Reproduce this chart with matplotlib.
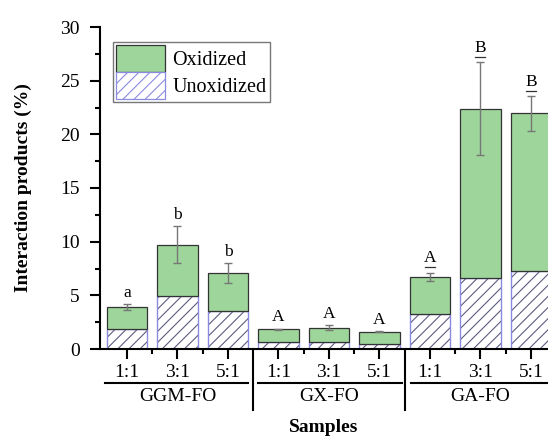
import matplotlib
matplotlib.use("Agg")
import matplotlib.pyplot as plt
import numpy as np
from matplotlib.patches import Patch
import matplotlib.transforms as mtransforms

plt.rcParams['font.family'] = ['Liberation Serif', 'DejaVu Serif']
plt.rcParams['hatch.linewidth'] = 0.8

groups = ["GGM-FO", "GX-FO", "GA-FO"]
ratios = ["1:1", "3:1", "5:1"]
total = [3.88, 9.72, 7.07, 1.85, 2.0, 1.6, 6.7, 22.4, 21.95]
unoxidized = [1.85, 4.92, 3.52, 0.62, 0.62, 0.5, 3.3, 6.64, 7.3]
errors = [0.27, 1.7, 0.95, 0.05, 0.2, 0.05, 0.4, 4.3, 1.6]
letters = ["a", "b", "b", "A", "A", "A", "A", "B", "B"]
underlined = [False, False, False, False, False, False, True, True, True]

oxidized = [t - u for t, u in zip(total, unoxidized)]
x = np.arange(len(total))

fig = plt.figure(figsize=(5.48, 4.37), dpi=100)
ax = fig.add_axes([100/548, 88/437, 1 - 100/548, 322/437])

green = '#9dd59b'
hatchc = '#5c5c80'
edgeb = '#8a8ae0'
ax.bar(x, unoxidized, width=0.8, color='white', edgecolor=hatchc, hatch='///', linewidth=0)
ax.bar(x, unoxidized, width=0.8, color='none', edgecolor=edgeb, linewidth=1.0)
ax.bar(x, oxidized, width=0.8, bottom=unoxidized, color=green, edgecolor='#333333', linewidth=0.9)
ax.errorbar(x, total, yerr=errors, fmt='none', ecolor='#777777', elinewidth=1.0, capsize=3, capthick=1.0)

for xi, t, e, lab, ul in zip(x, total, errors, letters, underlined):
    if ul:
        yl = t + e + 0.5
        ax.plot([xi - 0.1, xi + 0.1], [yl, yl], color='#333333', lw=0.9, clip_on=False)
        ax.text(xi, yl + 0.12, lab, ha='center', va='bottom', fontsize=12.5)
    else:
        ax.text(xi, t + e + 0.3, lab, ha='center', va='bottom', fontsize=12.5)

ax.set_ylim(0, 30)
ax.set_xlim(-0.535, 8.34)
ax.set_yticks([0, 5, 10, 15, 20, 25, 30])
ax.set_yticks([2.5, 7.5, 12.5, 17.5, 22.5, 27.5], minor=True)
ax.set_xticks(x)
ax.set_xticklabels(ratios * 3)
ax.set_xticks([0.5, 1.5, 3.5, 4.5, 6.5, 7.5], minor=True)
ax.tick_params(axis='both', which='major', direction='out', length=7, width=1.5, labelsize=14)
ax.tick_params(axis='both', which='minor', direction='out', length=3.6, width=1.5)
ax.tick_params(axis='x', which='major', pad=4)
ax.tick_params(axis='y', which='major', pad=7.5)
for s in ['top', 'right']:
    ax.spines[s].set_visible(False)
for s in ['left', 'bottom']:
    ax.spines[s].set_linewidth(1.5)

trans = mtransforms.blended_transform_factory(ax.transData, ax.transAxes)
spans = [(-0.44, 2.40), (2.60, 5.45), (5.62, 8.6)]
for (a, b), g, gi in zip(spans, groups, range(3)):
    ax.plot([a, b], [-0.1056, -0.1056], transform=trans, color='black', lw=1.5, clip_on=False)
    ax.text(3 * gi + 1, -0.148, g, transform=trans, ha='center', va='center', fontsize=14)
for sx in [2.5, 5.5]:
    ax.plot([sx, sx], [0, -0.19], transform=trans, color='black', lw=1.5, clip_on=False)

ax.set_ylabel("Interaction products (%)", fontsize=14, fontweight='bold')
ax.yaxis.set_label_coords(-68/448, 0.5)
fig.text(324 / 548, 1 - 428 / 437, "Samples", ha='center', va='center',
         fontsize=14, fontweight='bold')

handles = [Patch(facecolor=green, edgecolor='#333333', linewidth=0.9, label='Oxidized'),
           Patch(facecolor='white', edgecolor=edgeb, hatch='///', linewidth=0.9, label='Unoxidized')]
leg = ax.legend(handles=handles, loc='upper left', bbox_to_anchor=(13/448, 1 - 15/322), fontsize=14.5,
                frameon=True, fancybox=False, edgecolor='#777777', framealpha=1,
                handlelength=2.45, handleheight=1.7, borderpad=0.15, labelspacing=0.0,
                handletextpad=0.35, borderaxespad=0.0)
leg.get_frame().set_linewidth(1.0)

fig.savefig("out.png", dpi=100)
